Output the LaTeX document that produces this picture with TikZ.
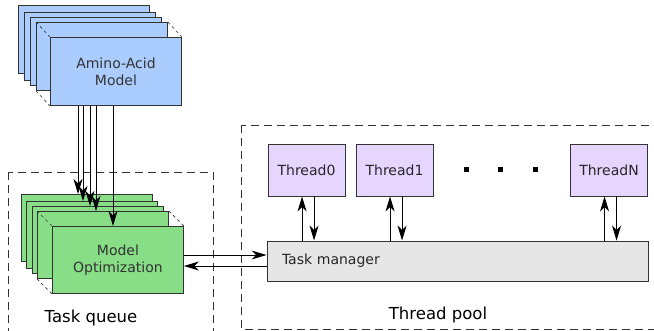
\documentclass[tikz,border=0pt]{standalone}
\usepackage{fontspec}
\setmainfont{DejaVu Sans}
\usetikzlibrary{arrows.meta, calc, positioning}

\definecolor{aminoblue}{HTML}{AACCFF}
\definecolor{optgreen}{HTML}{87DE87}
\definecolor{threadpurple}{HTML}{E5D5FF}
\definecolor{mgrgray}{HTML}{E6E6E6}
\definecolor{edge}{HTML}{333333}

\tikzset{
	box/.style={draw=edge, line width=0.9pt, minimum width=131pt, inner sep=0pt,
		align=center, text=edge, font=\fontsize{14}{17}\selectfont},
	aminobox/.style={box, fill=aminoblue, minimum height=68pt},
	optbox/.style={box, fill=optgreen, minimum height=67pt},
	threadbox/.style={box, fill=threadpurple, minimum width=77pt, minimum height=52pt, text=black!85},
	poolframe/.style={draw=edge, line width=0.9pt, dash pattern=on 8pt off 5pt},
	persp/.style={draw=edge, line width=0.6pt, dash pattern=on 3pt off 3pt},
	caption/.style={font=\fontsize{16.5}{19}\selectfont},
	link/.style={->, line width=0.9pt},
}

\begin{document}
\begin{tikzpicture}[x=1pt, y=-1pt, >={Stealth[length=15pt, width=9pt, inset=4.5pt]}]
\useasboundingbox (0,0) rectangle (654,330);
%========================
% Amino-acid model stack
%========================
\foreach \i/\x/\y in {1/18/5, 2/24/12, 3/30/17, 4/36/22}
	\node[aminobox, anchor=north west] (amino\i) at (\x,\y) {};
\node[aminobox, anchor=north west] (amino) at (50,37) {Amino-Acid\\Model};
% perspective hints
\draw[persp] (amino4.north west) -- (amino.north west);
\draw[persp] (amino4.north east) -- (amino.north east);
\draw[persp] (amino4.south west) -- (amino.south west);

%========================
% Task queue
%========================
\draw[poolframe] (8,172) rectangle (213,340);
\node[caption] (queue) at (91,318) {Task queue};
\foreach \i/\x/\y in {1/21/194, 2/26/201, 3/32/206, 4/37/211}
	\node[optbox, anchor=north west] (opt\i) at (\x,\y) {};
\node[optbox, anchor=north west] (opt) at (52,226) {Model\\Optimization};
\draw[persp] (opt4.north west) -- (opt.north west);
\draw[persp] (opt4.north east) -- (opt.north east);
\draw[persp] (opt4.south west) -- (opt.south west);

% model -> optimization tasks
\foreach \i/\dx in {1/57, 2/57, 3/58, 4/59}
	\coordinate (in\i) at ($(opt\i.north west)+(\dx,0)$);
\coordinate (in) at ($(opt.north west)+(61,0)$);
\foreach \i in {1,2,3,4}
	\draw[link] (in\i |- amino.south) -- (in\i);
\draw[link] (in |- amino.south) -- (in);

%========================
% Thread pool
%========================
\draw[poolframe] (241,125) rectangle (670,329);
\node[caption] (pool) at (438,315) {Thread pool};
\node[box, fill=mgrgray, minimum width=381pt, minimum height=40pt,
	text width=351pt, align=left, text=black!85] (mgr) at (457.5,261) {\raisebox{1.5pt}{Task manager}};
\node[threadbox] (thread0) at (306.5,170) {Thread0};
\node[threadbox] (thread1) at (394.5,170) {Thread1};
\node[threadbox] (threadN) at (609,170) {ThreadN};
\foreach \x in {466, 500, 535}
	\fill (\x-2.5,166.5) rectangle (\x+2.5,171.5);
\foreach \t in {thread0, thread1, threadN} {
	\coordinate (\t-up) at ($(\t.south west)+(34.5,0)$);
	\coordinate (\t-down) at ($(\t.south west)+(46.5,0)$);
	\draw[link] (\t-up |- mgr.north) -- (\t-up);
	\draw[link] (\t-down) -- (\t-down |- mgr.north);
}

% queue <-> task manager
\draw[link] (opt.east |- 0,255) -- (mgr.west |- 0,255);
\draw[link] (mgr.west |- 0,266) -- (opt.east |- 0,266);
\end{tikzpicture}
\end{document}
